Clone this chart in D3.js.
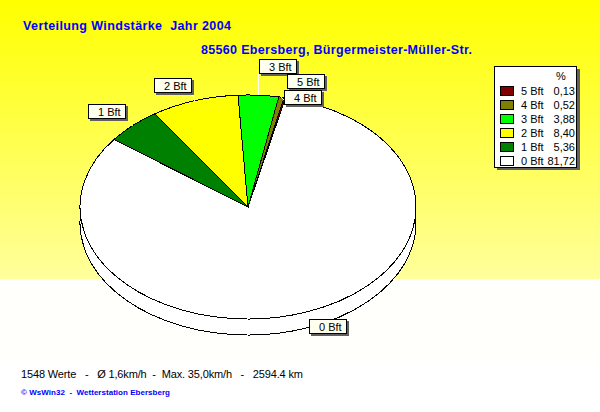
<!DOCTYPE html>
<html>
<head>
<meta charset="utf-8">
<script src="https://cdn.jsdelivr.net/npm/d3@7"></script>
<style>
  html, body { margin: 0; padding: 0; background: #fff; }
  svg { display: block; font-family: "Liberation Sans", Arial, sans-serif; }
</style>
</head>
<body>
<div id="chart"></div>
<script>
// values
const categories = ['0 Bft', '1 Bft', '2 Bft', '3 Bft', '4 Bft', '5 Bft'];
const percentValues = [81.72, 5.36, 8.40, 3.88, 0.52, 0.13];
const percentLabels = ['81,72', '5,36', '8,40', '3,88', '0,52', '0,13'];
const sliceColors = ['#ffffff', '#008000', '#ffff00', '#00ff00', '#808000', '#800000'];

const titleText = 'Verteilung Windstärke  Jahr 2004';
const subtitleText = '85560 Ebersberg, Bürgermeister-Müller-Str.';
const statsText = '1548 Werte   -   Ø 1,6km/h  -  Max. 35,0km/h   -   2594.4 km';
const creditText = '© WsWin32  -  Wetterstation Ebersberg';

const width = 600, height = 412;

const svg = d3.select('#chart').append('svg')
    .attr('width', width)
    .attr('height', height);

// Background gradient, only the upper part
const defs = svg.append('defs');
const grad = defs.append('linearGradient')
    .attr('id', 'bg')
    .attr('x1', 0).attr('y1', 0).attr('x2', 0).attr('y2', 1);
grad.append('stop').attr('offset', '0%').attr('stop-color', '#ffff00');
grad.append('stop').attr('offset', '100%').attr('stop-color', '#ffff9c');

svg.append('rect').attr('width', width).attr('height', height).attr('fill', '#ffffff');
svg.append('rect').attr('width', width).attr('height', 279).attr('fill', 'url(#bg)');
svg.append('rect').attr('y', 279).attr('width', width).attr('height', 84).attr('fill', '#fffffb');

// Pie
const cx = 248, cy = 207, rx = 168, ry = 112, depth = 16;

const pie = d3.pie()
    .sort(null)
    .value(d => d)
    .startAngle(12.9 * Math.PI / 180)
    .endAngle((12.9 + 360) * Math.PI / 180);
const slices = pie(percentValues);

const arc = d3.arc().innerRadius(0).outerRadius(rx);

// Draws the slices flattened to an ellipse
function drawPie(offset) {
    svg.append('g')
        .attr('transform', `translate(${cx},${cy + offset}) scale(1,${ry / rx})`)
        .selectAll('path')
        .data(slices)
        .join('path')
        .attr('d', arc)
        .attr('fill', (d, i) => sliceColors[i])
        .attr('stroke', '#000')
        .attr('stroke-width', 1)
        .attr('vector-effect', 'non-scaling-stroke')
        .attr('shape-rendering', 'crispEdges');
}
drawPie(depth); // side of the pie
drawPie(0);

// Point on the rim for the middle of a slice
function rimPoint(d) {
    const a = (d.startAngle + d.endAngle) / 2;
    return [cx + rx * Math.sin(a), cy - ry * Math.cos(a)];
}

// Label boxes, in the same order as the categories
const labelBoxes = [
    { x: 309, y: 319, ax: 309, ay: 326 },
    { x: 88, y: 104, ax: 126, ay: 119 },
    { x: 154, y: 78, ax: 192, ay: 93 },
    { x: 259, y: 59, ax: 259, ay: 73 },
    { x: 284, y: 90, ax: 284, ay: 100 },
    { x: 287, y: 74, ax: 287, ay: 89 }
];
const boxW = 37, boxH = 14;

// Leader lines, the one of 0 Bft stays on white and does not show
slices.forEach((d, i) => {
    if (i === 0) return;
    const b = labelBoxes[i];
    const p = rimPoint(d);
    svg.append('line')
        .attr('x1', b.ax).attr('y1', b.ay)
        .attr('x2', p[0]).attr('y2', p[1])
        .attr('stroke', '#fff')
        .attr('shape-rendering', 'crispEdges');
});

// Label boxes with shadow, drawn back to front like in the picture
[0, 1, 2, 3, 5, 4].forEach(i => {
    const b = labelBoxes[i];
    const g = svg.append('g').attr('transform', `translate(${b.x},${b.y})`);
    g.append('rect').attr('x', 2).attr('y', 2).attr('width', boxW + 1).attr('height', boxH + 1).attr('fill', '#606060');
    g.append('rect').attr('x', 0.5).attr('y', 0.5).attr('width', boxW).attr('height', boxH)
        .attr('fill', '#fffff0').attr('stroke', '#000');
    g.append('text').attr('x', 10).attr('y', 11.5)
        .attr('font-size', 11).attr('fill', '#000')
        .text(categories[i]);
});

// Legend
const legend = svg.append('g').attr('transform', 'translate(494,66)');
legend.append('rect').attr('x', 3).attr('y', 3).attr('width', 83).attr('height', 101).attr('fill', '#606060');
legend.append('rect').attr('x', 0.5).attr('y', 0.5).attr('width', 82).attr('height', 101)
    .attr('fill', '#fff').attr('stroke', '#000');
legend.append('text').attr('x', 62).attr('y', 14).attr('font-size', 11).text('%');

const legendY = d3.scalePoint()
    .domain(d3.range(categories.length).reverse())
    .range([25, 95]);

categories.forEach((c, i) => {
    const y = legendY(i);
    legend.append('rect')
        .attr('x', 6.5).attr('y', y - 4.5).attr('width', 13).attr('height', 9)
        .attr('fill', sliceColors[i]).attr('stroke', '#000');
    legend.append('text').attr('x', 27).attr('y', y + 4).attr('font-size', 11).text(c);
    legend.append('text').attr('x', 81).attr('y', y + 4)
        .attr('text-anchor', 'end').attr('font-size', 11).text(percentLabels[i]);
});

// Titles and footer, stretched to the width they have in the picture
svg.append('text').attr('x', 23).attr('y', 30)
    .attr('font-size', 12.5).attr('font-weight', 'bold').attr('fill', '#0000ff')
    .attr('textLength', 208).style('white-space', 'pre')
    .text(titleText);
svg.append('text').attr('x', 201).attr('y', 54)
    .attr('font-size', 12.5).attr('font-weight', 'bold').attr('fill', '#0000ff')
    .attr('textLength', 271)
    .text(subtitleText);
svg.append('text').attr('x', 21).attr('y', 378)
    .attr('font-size', 11).attr('fill', '#000').style('white-space', 'pre')
    .attr('textLength', 282)
    .text(statsText);
svg.append('text').attr('x', 21).attr('y', 395)
    .attr('font-size', 8).attr('font-weight', 'bold').attr('fill', '#0000ff').style('white-space', 'pre')
    .attr('textLength', 149)
    .text(creditText);
</script>
</body>
</html>
